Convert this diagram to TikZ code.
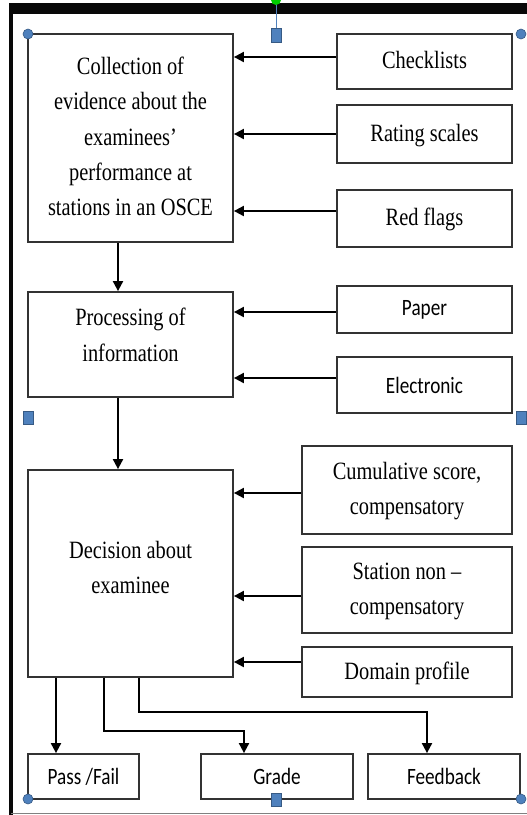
\documentclass[tikz,border=0pt]{standalone}
\usepackage{fontspec}
\setmainfont{Liberation Serif}
\newfontfamily\calib{Carlito}
\usepackage{graphicx}
\usepackage{xcolor}
\usetikzlibrary{arrows.meta}
\definecolor{hblue}{RGB}{79,129,189}
\definecolor{hgreen}{RGB}{0,204,0}
\definecolor{framek}{RGB}{8,8,8}
\newcommand{\tallt}[1]{\scalebox{1}[1.22]{\begin{tabular}{@{}c@{}}#1\end{tabular}}}
\tikzset{
 box/.style={draw=black!80, line width=1.8pt, fill=white, inner sep=0pt},
 arr/.style={line width=1.9pt, -{Triangle[length=10pt,width=10pt]}},
 serif/.style={font=\fontsize{20.4}{29}\selectfont},
 sans/.style={font=\calib\fontsize{19.2}{24}\selectfont},
 handle/.style={fill=hblue, draw=hblue!70!black, line width=0.6pt}
}

\begin{document}
\begin{tikzpicture}[x=1pt,y=-1pt]
 \useasboundingbox (0,0) rectangle (527,815);
 % frame
 \fill[framek] (9,3) rectangle (527,14);
 \fill[framek] (9,3) rectangle (13,815);
 \draw[gray, line width=1pt] (11,813)--(527,813);
 %%%%%%%%%%%%%%%%%%%%%%%%%%%%%%%%%%%
 \node[box, serif, minimum width=205, minimum height=208] (coll) at (130.5,138)
  {\tallt{Collection of\\evidence about the\\examinees'\\performance at\\stations in an OSCE}};
 \node[box, serif, minimum width=175, minimum height=55] (chk) at (424.5,61.5) {\tallt{Checklists}};
 \node[box, serif, minimum width=175, minimum height=58] (rat) at (424.5,134) {\tallt{Rating scales}};
 \node[box, serif, minimum width=175, minimum height=57] (red) at (424.5,218.5) {\tallt{Red flags}};
 \draw[arr] ([yshift=4.5pt]chk.west) -- ([yshift=4.5pt]chk.west -| coll.east);
 \draw[arr] (rat.west) -- (rat.west -| coll.east);
 \draw[arr] ([yshift=7.5pt]red.west) -- ([yshift=7.5pt]red.west -| coll.east);
 %%%%%%%%%%%%%%%%%%%%%%%%%%%%%%%%%%%
 \node[box, serif, minimum width=205, minimum height=105] (proc) at (130.5,344.5)
  {\raisebox{8pt}[\height][\depth]{\tallt{Processing of\\information}}};
 \node[box, sans, minimum width=175, minimum height=47] (pap) at (424.5,309.5) {\scalebox{1}[1.22]{Paper}};
 \node[box, sans, minimum width=175, minimum height=56] (ele) at (424.5,385) {\scalebox{1}[1.22]{Electronic}};
 \draw[arr] ([yshift=-2.5pt]pap.west) -- ([yshift=-2.5pt]pap.west -| proc.east);
 \draw[arr] ([yshift=7pt]ele.west) -- ([yshift=7pt]ele.west -| proc.east);
 \coordinate (c1) at ([xshift=-12.5pt]coll.south);
 \draw[arr] (c1) -- (c1 |- proc.north);
 %%%%%%%%%%%%%%%%%%%%%%%%%%%%%%%%%%%
 \node[box, serif, minimum width=205, minimum height=207] (dec) at (130.5,573.5)
  {\raisebox{4.5pt}[\height][\depth]{\tallt{Decision about\\examinee}}};
 \node[box, serif, minimum width=210, minimum height=88] (cum) at (407,490)
  {\tallt{Cumulative score,\\compensatory}};
 \node[box, serif, minimum width=210, minimum height=86] (sta) at (407,590)
  {\tallt{Station non --\\compensatory}};
 \node[box, serif, minimum width=210, minimum height=50] (dom) at (407,672) {\tallt{Domain profile}};
 \draw[arr] ([yshift=-3pt]cum.west) -- ([yshift=-3pt]cum.west -| dec.east);
 \draw[arr] ([yshift=-6pt]sta.west) -- ([yshift=-6pt]sta.west -| dec.east);
 \draw[arr] ([yshift=10pt]dom.west) -- ([yshift=10pt]dom.west -| dec.east);
 \coordinate (p1) at ([xshift=-12.5pt]proc.south);
 \draw[arr] (p1) -- (p1 |- dec.north);
 %%%%%%%%%%%%%%%%%%%%%%%%%%%%%%%%%%%
 \node[box, sans, minimum width=111, minimum height=45] (pass) at (83.5,776.5) {\scalebox{1}[1.22]{Pass /Fail}\hspace{15pt}};
 \node[box, sans, minimum width=152, minimum height=45] (grade) at (277,776.5) {\scalebox{1}[1.22]{Grade}};
 \node[box, sans, minimum width=152, minimum height=45] (feed) at (444,776.5) {\scalebox{1}[1.22]{Feedback}};
 \coordinate (pf) at ([xshift=-27.5pt]pass.north);
 \coordinate (gr) at ([xshift=-33pt]grade.north);
 \coordinate (fb) at ([xshift=-17pt]feed.north);
 \coordinate (d1) at ([xshift=-26.5pt]dec.south);
 \coordinate (d2) at ([xshift=8.5pt]dec.south);
 \draw[arr] (pf |- dec.south) -- (pf);
 \draw[arr] (d1) -- ++(0,53) -| (gr);
 \draw[arr] (d2) -- ++(0,34) -| (fb);
 %%%%%%%%%%%%%%%%%%%%%%%%%%%%%%%%%%%
 % selection handles
 \draw[hblue, line width=1pt] (276,0)--(276,28);
 \path[fill=hgreen] (276,0) circle (5);
 \path[handle] (271,28) rectangle (281,42);
 \path[handle] (23,411) rectangle (33,424);
 \path[handle] (516,411) rectangle (526,424);
 \path[handle] (271,793) rectangle (281,806);
 \path[handle] (28,34) circle (5);
 \path[handle] (521,34) circle (5);
 \path[handle] (28,799) circle (5);
 \path[handle] (521,799) circle (5);
\end{tikzpicture}
\end{document}
